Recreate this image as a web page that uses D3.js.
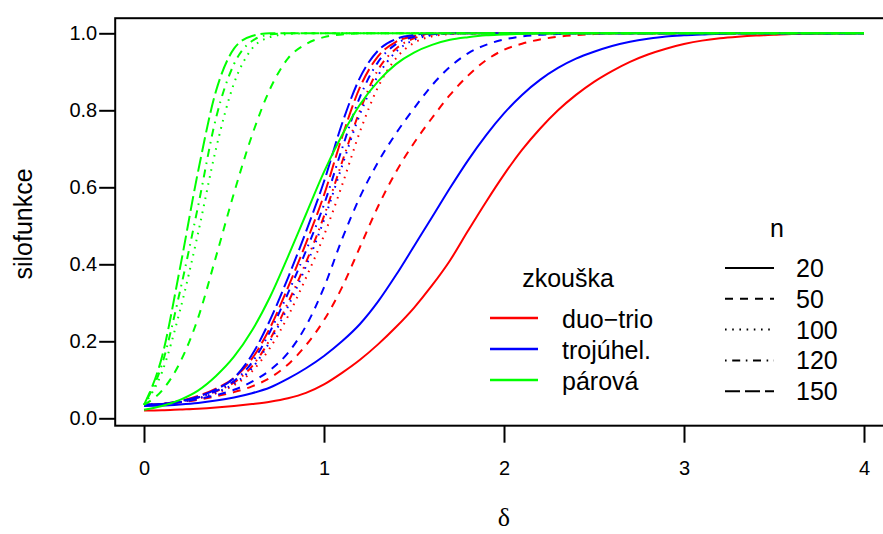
<!DOCTYPE html>
<html>
<head>
<meta charset="utf-8">
<script src="https://cdn.jsdelivr.net/npm/d3@7"></script>
<style>
  html, body { margin: 0; padding: 0; background: #fff; }
  svg { display: block; }
  text { font-family: "Liberation Sans", Arial, sans-serif; fill: #000; }
</style>
</head>
<body>
<svg id="chart" width="883" height="534"></svg>
<script>
// Power (silofunkce) of three discrimination tests as a function of delta,
// for several panel sizes n. Values are given on a delta grid with step 0.1,
// starting at delta = 0; each curve stays at its last value up to delta = 4.
const deltaStep = 0.1;
const deltaMax = 4;
const xTicks = [0, 1, 2, 3, 4];
const yTicks = [0, 0.2, 0.4, 0.6, 0.8, 1.0];

const tests = ["duo\u2212trio", "troj\u00fahel.", "p\u00e1rov\u00e1"];
const testColors = ["#ff0000", "#0000ff", "#00ff00"];
const sizes = [20, 50, 100, 120, 150];
const sizeDashes = [null, "8,7", "1.6,5.6", "1.6,5.6,8,5.6", "15,5"];

// duo-trio
const duo20  = [0.020,0.021,0.023,0.025,0.028,0.032,0.037,0.043,0.052,0.066,0.088,0.118,0.152,0.192,0.237,0.287,0.345,0.410,0.487,0.562,0.633,0.697,0.752,0.800,0.840,0.874,0.902,0.926,0.945,0.960,0.972,0.981,0.987,0.991,0.994,0.996,0.998,0.999,1.000];
const duo50  = [0.035,0.037,0.041,0.048,0.057,0.068,0.083,0.105,0.140,0.190,0.255,0.340,0.445,0.550,0.640,0.715,0.780,0.840,0.890,0.930,0.957,0.973,0.984,0.991,0.995,0.998,1.000];
const duo100 = [0.035,0.037,0.042,0.051,0.065,0.086,0.122,0.183,0.265,0.365,0.475,0.605,0.745,0.860,0.935,0.975,0.992,0.998,1.000];
const duo120 = [0.035,0.037,0.043,0.054,0.070,0.093,0.135,0.205,0.300,0.405,0.525,0.665,0.800,0.905,0.960,0.987,0.997,1.000];
const duo150 = [0.035,0.037,0.045,0.058,0.077,0.105,0.155,0.235,0.340,0.455,0.580,0.730,0.860,0.940,0.978,0.993,0.999,1.000];

// triangle (trojúhelníkový test)
const tri20  = [0.032,0.033,0.036,0.040,0.046,0.054,0.065,0.080,0.103,0.130,0.162,0.200,0.245,0.303,0.372,0.447,0.522,0.598,0.670,0.735,0.792,0.840,0.879,0.910,0.934,0.952,0.967,0.978,0.986,0.992,0.995,0.997,0.999,1.000];
const tri50  = [0.035,0.037,0.042,0.050,0.060,0.074,0.095,0.125,0.170,0.240,0.340,0.465,0.575,0.665,0.740,0.805,0.865,0.913,0.948,0.970,0.984,0.992,0.996,0.998,1.000];
const tri100 = [0.035,0.037,0.042,0.052,0.067,0.090,0.130,0.200,0.290,0.395,0.515,0.655,0.790,0.890,0.952,0.983,0.995,0.999,1.000];
const tri120 = [0.035,0.037,0.043,0.054,0.071,0.097,0.145,0.225,0.325,0.435,0.555,0.700,0.835,0.925,0.972,0.991,0.998,1.000];
const tri150 = [0.035,0.037,0.044,0.056,0.075,0.105,0.165,0.255,0.365,0.485,0.615,0.765,0.885,0.955,0.985,0.996,1.000];

// paired comparison
const par20  = [0.022,0.032,0.048,0.072,0.110,0.160,0.228,0.315,0.420,0.530,0.640,0.735,0.815,0.875,0.920,0.950,0.970,0.983,0.990,0.995,0.997,0.999,1.000];
const par50  = [0.035,0.072,0.145,0.260,0.420,0.585,0.735,0.855,0.935,0.972,0.990,0.997,1.000];
const par100 = [0.035,0.120,0.280,0.480,0.700,0.870,0.960,0.990,0.998,1.000];
const par120 = [0.035,0.140,0.330,0.550,0.780,0.920,0.980,0.997,1.000];
const par150 = [0.035,0.160,0.390,0.640,0.850,0.960,0.993,1.000];

const powerTable = [
  [duo20, duo50, duo100, duo120, duo150],
  [tri20, tri50, tri100, tri120, tri150],
  [par20, par50, par100, par120, par150]
];

const svg = d3.select("#chart");

const x = d3.scaleLinear().domain([0, 4]).range([144, 864]);
const y = d3.scaleLinear().domain([0, 1]).range([418.3, 33.3]);

// plot region extends 4% beyond the data range, as in base R graphics
const boxX0 = x(-0.16), boxX1 = x(4.16);
const boxY0 = y(1.0392), boxY1 = y(-0.0192);

svg.append("defs").append("clipPath").attr("id", "plotClip")
  .append("rect")
  .attr("x", boxX0).attr("y", boxY0)
  .attr("width", boxX1 - boxX0).attr("height", boxY1 - boxY0);

// curves
const line = d3.line()
  .x(d => x(d[0]))
  .y(d => y(d[1]))
  .curve(d3.curveMonotoneX);

const curves = svg.append("g").attr("clip-path", "url(#plotClip)");
powerTable.forEach((row, ti) => {
  row.forEach((vals, si) => {
    const pts = vals.map((p, i) => [i * deltaStep, p]);
    pts.push([deltaMax, vals[vals.length - 1]]);
    curves.append("path")
      .datum(pts)
      .attr("d", line)
      .attr("fill", "none")
      .attr("stroke", testColors[ti])
      .attr("stroke-width", 2)
      .attr("stroke-dasharray", sizeDashes[si]);
  });
});

// frame
svg.append("rect")
  .attr("x", boxX0).attr("y", boxY0)
  .attr("width", boxX1 - boxX0).attr("height", boxY1 - boxY0)
  .attr("fill", "none").attr("stroke", "#000").attr("stroke-width", 2);

// axes
const xAxis = svg.append("g")
  .attr("transform", `translate(0,${boxY1})`)
  .call(d3.axisBottom(x).tickValues(xTicks).tickSize(17).tickPadding(18)
        .tickFormat(d3.format("d")));
xAxis.select(".domain").remove();
xAxis.selectAll("line").attr("stroke-width", 2);
xAxis.selectAll("text").attr("font-size", 20).attr("font-family", "Liberation Sans, Arial, sans-serif");

const yAxis = svg.append("g")
  .attr("transform", `translate(${boxX0},0)`)
  .call(d3.axisLeft(y).tickValues(yTicks).tickSize(16).tickPadding(2)
        .tickFormat(d3.format(".1f")));
yAxis.select(".domain").remove();
yAxis.selectAll("line").attr("stroke-width", 2);
yAxis.selectAll("text").attr("font-size", 20).attr("font-family", "Liberation Sans, Arial, sans-serif");

// axis titles
svg.append("text")
  .attr("x", x(2)).attr("y", 526)
  .attr("text-anchor", "middle")
  .attr("font-size", 26)
  .style("font-family", "Liberation Serif, Times New Roman, serif")
  .text("\u03b4");

svg.append("text")
  .attr("transform", "translate(32,224) rotate(-90)")
  .attr("text-anchor", "middle")
  .attr("font-size", 25)
  .text("silofunkce");

// legend: test type
const legTest = svg.append("g");
legTest.append("text")
  .attr("x", 568).attr("y", 287)
  .attr("text-anchor", "middle")
  .attr("font-size", 25)
  .text("zkou\u0161ka");
tests.forEach((name, i) => {
  const yy = 318 + i * 31;
  legTest.append("line")
    .attr("x1", 490).attr("x2", 538).attr("y1", yy).attr("y2", yy)
    .attr("stroke", testColors[i]).attr("stroke-width", 2.5);
  legTest.append("text")
    .attr("x", 562).attr("y", yy + 10)
    .attr("font-size", 25)
    .text(name);
});

// legend: panel size
const legN = svg.append("g");
legN.append("text")
  .attr("x", 777).attr("y", 237)
  .attr("text-anchor", "middle")
  .attr("font-size", 25)
  .text("n");
sizes.forEach((n, i) => {
  const yy = 268 + i * 30.8;
  legN.append("line")
    .attr("x1", 725).attr("x2", 774).attr("y1", yy).attr("y2", yy)
    .attr("stroke", "#000").attr("stroke-width", 2)
    .attr("stroke-dasharray", sizeDashes[i]);
  legN.append("text")
    .attr("x", 796).attr("y", yy + 9)
    .attr("font-size", 25)
    .text(n);
});
</script>
</body>
</html>
